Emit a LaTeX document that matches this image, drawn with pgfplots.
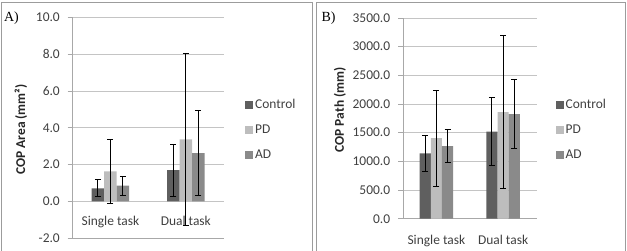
\documentclass[border=0pt]{standalone}
\usepackage{fontspec}
\setmainfont{Carlito}
\newfontfamily\panelfont{Liberation Serif}
\usepackage{pgfplots}
\pgfplotsset{compat=1.18}

\definecolor{ctrl}{HTML}{5F5F5F}
\definecolor{pd}{HTML}{BDBDBD}
\definecolor{ad}{HTML}{8A8A8A}
\definecolor{gridc}{HTML}{C4C4C4}
\definecolor{axisc}{HTML}{A8A8A8}
\definecolor{txt}{HTML}{404040}
\definecolor{framec}{HTML}{9C9C9C}

\pgfplotsset{
  copbar/.style={
    scale only axis,
    ybar=0pt,
    xmin=-0.5, xmax=1.5,
    xtick={0,1}, xticklabels={Single task, Dual task},
    axis y line*=left,
    axis x line*=bottom,
    ymajorgrids,
    grid style={gridc, line width=0.8pt},
    axis line style={axisc, line width=0.8pt},
    major x tick style={draw=none},
    ytick style={axisc, line width=0.8pt},
    tick align=outside,
    major tick length=5bp,
    ticklabel style={font=\fontsize{13.5}{15}\selectfont, text=txt},
    yticklabel style={inner xsep=0pt, anchor=east, xshift=-7.7bp},
    yticklabel style={/pgf/number format/.cd, fixed, fixed zerofill, precision=1, 1000 sep={}, assume math mode=true},
    ylabel style={font=\bfseries\fontsize{13.5}{15}\selectfont, text=black!85, anchor=center, rotate=0},
    legend style={draw=none, fill=none, at={(rel axis cs:1,0.5)}, anchor=west,
      font=\fontsize{13.5}{15}\selectfont, text=txt, inner sep=0pt, row sep=13bp,
      nodes={inner sep=0pt, text height=9bp, text depth=3bp}},
    legend cell align=left,
    error bars/y dir=both,
    error bars/y explicit,
    error bars/error bar style={black, line width=1pt},
    error bars/error mark options={rotate=90, black, mark size=3bp, line width=1pt},
  },
  sq/.style={draw=none, fill=#1,
    legend image code/.code={\fill[#1] (0bp,-4bp) rectangle (8bp,4bp);\path (10bp,0bp);}},
}

\begin{document}
\begin{tikzpicture}
% panel frames
\draw[framec, line width=1.2bp] (1.2bp,-3bp) -- (1.2bp,248.4bp) -- (312.3bp,248.4bp) -- (312.3bp,-3bp);
\draw[framec, line width=1.2bp] (316.2bp,-3bp) -- (316.2bp,248.4bp) -- (625.4bp,248.4bp) -- (625.4bp,-3bp);

\node[font=\panelfont\fontsize{14}{16}\selectfont] at (11.5bp,233bp) {A)};
\node[font=\panelfont\fontsize{14}{16}\selectfont] at (328.5bp,233bp) {B)};

% A) centre of pressure area
\begin{axis}[copbar,
  at={(72.7bp,12.95bp)}, anchor=south west,
  width=150.8bp, height=220.5bp,
  bar width=12.5bp,
  ymin=-2, ymax=10, ytick={-2,0,2,4,6,8,10},
  xticklabel style={anchor=base, yshift=17.2bp},
  ylabel={COP Area (mm²)},
  ylabel style={at={(axis description cs:-0.343,0.492)}},
  legend style={xshift=21.5bp, yshift=-2.5bp},
]
\addplot[sq=ctrl] coordinates {(0,0.71) +- (0,0.47) (1,1.69) +- (0,1.41)};
\addplot[sq=pd]   coordinates {(0,1.63) +- (0,1.74) (1,3.37) +- (0,4.67)};
\addplot[sq=ad]   coordinates {(0,0.85) +- (0,0.52) (1,2.62) +- (0,2.32)};
\legend{Control, PD, AD}
\end{axis}

% B) centre of pressure path length
\begin{axis}[copbar,
  at={(403bp,32.3bp)}, anchor=south west,
  width=133.5bp, height=200.7bp,
  bar width=11.2bp,
  ymin=0, ymax=3500, ytick={0,500,...,3500},
  xticklabel style={anchor=base, yshift=-20.5bp},
  ylabel={COP Path (mm)},
  ylabel style={at={(axis description cs:-0.472,0.542)}},
  legend style={xshift=19bp, yshift=-12.1bp},
]
\addplot[sq=ctrl] coordinates {(0,1140) +- (0,317) (1,1520) +- (0,597)};
\addplot[sq=pd]   coordinates {(0,1405) +- (0,835) (1,1860) +- (0,1333)};
\addplot[sq=ad]   coordinates {(0,1265) +- (0,288) (1,1825) +- (0,605)};
\legend{Control, PD, AD}
\end{axis}

\pgfresetboundingbox
\useasboundingbox (0,0) rectangle (627bp,251bp);
\end{tikzpicture}
\end{document}
